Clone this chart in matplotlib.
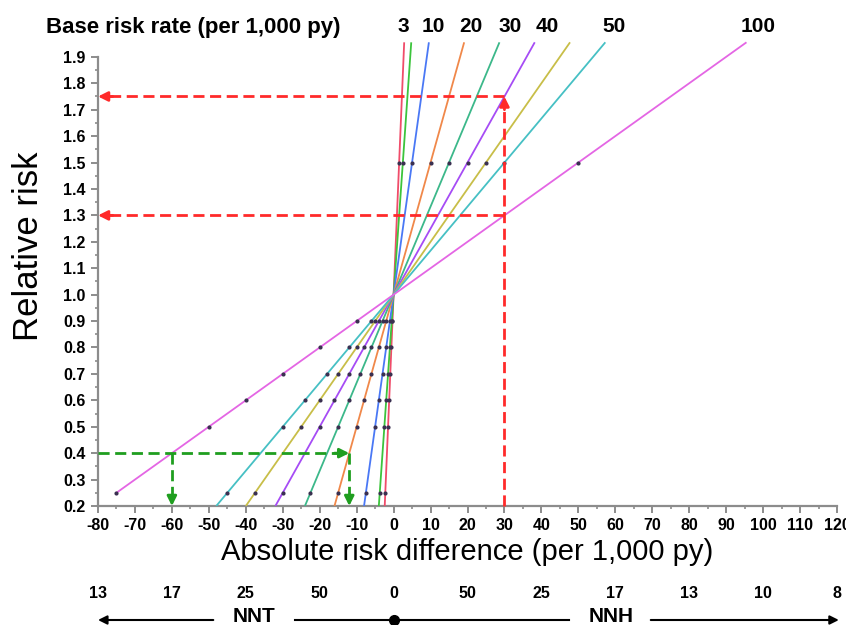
import matplotlib
matplotlib.use("Agg")
import matplotlib.pyplot as plt
import numpy as np
from matplotlib.ticker import MultipleLocator, FixedLocator
from matplotlib.transforms import blended_transform_factory

plt.rcParams['font.family'] = ['Liberation Sans', 'DejaVu Sans']
plt.rcParams['axes.unicode_minus'] = False

# ---- data ----
base_rates = [3, 5, 10, 20, 30, 40, 50, 60, 100]
line_colors = ['#f04c6a', '#3cc43c', '#4a78f5', '#f0884a', '#3cb88a',
               '#a64cf5', '#c8be48', '#46c0c4', '#e466e4']
rr_start = [0.2, 0.2, 0.2, 0.2, 0.2, 0.2, 0.2, 0.2, 0.25]
rr_end = 1.955
dot_rr = [0.25, 0.5, 0.6, 0.7, 0.8, 0.9, 1.5]

top_labels = ['3', '10', '20', '30', '40', '50', '100']
top_label_x = [2.7, 10.8, 21, 31.5, 41.5, 59.6, 98.6]

nn_x = [-80, -60, -40, -20, 0, 20, 40, 60, 80, 100, 120]
nn_labels = ['13', '17', '25', '50', '0', '50', '25', '17', '13', '10', '8']

# ---- figure ----
fig = plt.figure(figsize=(8.46, 6.25), dpi=100)
ax = fig.add_axes([98/846, 1-506/625, (837-98)/846, (506-41)/625])
ax.set_xlim(-80, 120)
ax.set_ylim(0.2, 1.96)

for b, c, r0 in zip(base_rates, line_colors, rr_start):
    rr = np.array([r0, rr_end])
    ax.plot(b*(rr-1), rr, color=c, lw=1.3, solid_capstyle='butt', zorder=3)
    d = np.array(dot_rr)
    ax.plot(b*(d-1), d, ls='none', marker='o', ms=3.0, color='#3a3050',
            mec='none', zorder=4)

red = '#ff2a2a'
green = '#1f9e1f'
dash = (4, 2)

def dashed(xs, ys, color):
    ax.plot(xs, ys, color=color, lw=2.0, dashes=dash, zorder=5, clip_on=False)

def head(x0, y0, x1, y1, color):
    ax.annotate('', xy=(x1, y1), xytext=(x0, y0),
                arrowprops=dict(arrowstyle='-|>', color=color, lw=2.0,
                                mutation_scale=14, shrinkA=0, shrinkB=0),
                zorder=6, annotation_clip=False)

# red arrows
dashed([30, 30], [0.2, 1.72], red)
head(30, 1.70, 30, 1.75, red)
dashed([30, -77], [1.75, 1.75], red)
head(-76, 1.75, -80, 1.75, red)
dashed([30, -77], [1.3, 1.3], red)
head(-76, 1.3, -80, 1.3, red)

# green arrows
dashed([-80, -15], [0.4, 0.4], green)
head(-16, 0.4, -12, 0.4, green)
dashed([-12, -12], [0.4, 0.23], green)
head(-12, 0.24, -12, 0.2, green)
dashed([-60, -60], [0.4, 0.23], green)
head(-60, 0.24, -60, 0.2, green)

# axes styling
for s in ['top', 'right']:
    ax.spines[s].set_visible(False)
gray = '#8c8c8c'
ax.spines['left'].set_color(gray)
ax.spines['bottom'].set_color(gray)
ax.spines['left'].set_linewidth(1.6)
ax.spines['bottom'].set_linewidth(1.6)
ax.spines['left'].set_bounds(0.2, 1.9)

ax.xaxis.set_major_locator(MultipleLocator(10))
ax.xaxis.set_minor_locator(MultipleLocator(5))
ax.yaxis.set_major_locator(FixedLocator(np.round(np.arange(0.2, 1.91, 0.1), 2)))
ax.yaxis.set_minor_locator(FixedLocator(np.round(np.arange(0.25, 1.9, 0.1), 2)))
ax.yaxis.set_major_formatter(matplotlib.ticker.FormatStrFormatter('%.1f'))
ax.tick_params(which='major', length=5, width=1.4, color=gray, pad=4,
               labelsize=11.5)
ax.tick_params(which='minor', length=2.5, width=1.2, color=gray)
for lab in ax.get_xticklabels() + ax.get_yticklabels():
    lab.set_fontweight('bold')

ax.set_xlabel('Absolute risk difference (per 1,000 py)', fontsize=21,
              labelpad=3)
fig.text(29/846, 1-246/625, 'Relative risk', rotation=90, fontsize=25,
         ha='center', va='center')

# top labels
fig.text(46/846, 1-27/625, 'Base risk rate (per 1,000 py)', fontsize=16,
         fontweight='bold', ha='left', va='center')
tr_top = blended_transform_factory(ax.transData, fig.transFigure)
for t, x in zip(top_labels, top_label_x):
    ax.text(x, 1-27/625, t, transform=tr_top, fontsize=15,
            fontweight='bold', ha='center', va='center')

# NNT / NNH scale
for t, x in zip(nn_labels, nn_x):
    ax.text(x, 1-594/625, t, transform=tr_top, fontsize=11.5,
            fontweight='bold', ha='center', va='center', clip_on=False)

yl = 1-620/625
ax.annotate('', xy=(-80, yl), xytext=(-48.8, yl), xycoords=tr_top,
            textcoords=tr_top,
            arrowprops=dict(arrowstyle='-|>', color='black', lw=1.5,
                            mutation_scale=13, shrinkA=0, shrinkB=0),
            annotation_clip=False)
ax.annotate('', xy=(120.5, yl), xytext=(69.6, yl), xycoords=tr_top,
            textcoords=tr_top,
            arrowprops=dict(arrowstyle='-|>', color='black', lw=1.5,
                            mutation_scale=13, shrinkA=0, shrinkB=0),
            annotation_clip=False)
ax.plot([-26.6, 47.4], [yl, yl], color='black', lw=1.5, transform=tr_top,
        clip_on=False)
ax.plot([0], [yl], marker='o', ms=7, color='black', transform=tr_top,
        clip_on=False)
ax.text(-37.7, 1-617/625, 'NNT', transform=tr_top, fontsize=15,
        fontweight='bold', ha='center', va='center')
ax.text(59, 1-617/625, 'NNH', transform=tr_top, fontsize=15,
        fontweight='bold', ha='center', va='center')

fig.savefig('out.png', dpi=100)
